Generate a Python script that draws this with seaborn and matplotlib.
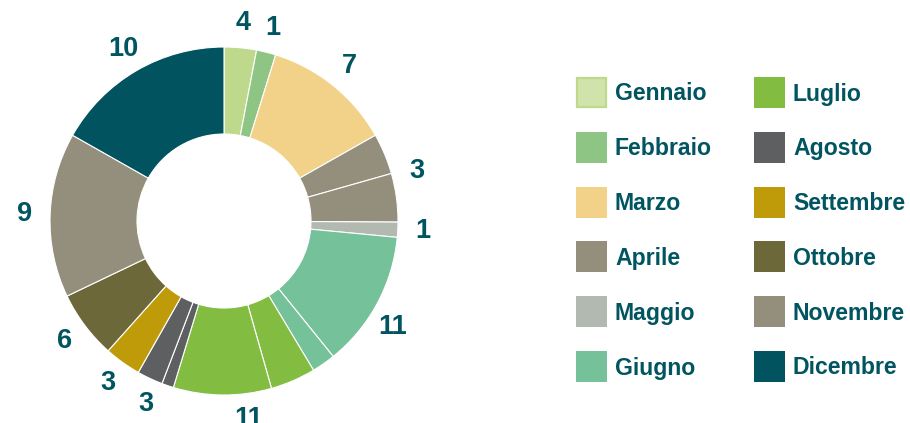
import matplotlib
matplotlib.use("Agg")
import matplotlib.pyplot as plt
from matplotlib.patches import Rectangle
import numpy as np
import seaborn as sns

# Months, the count shown next to each month, and each month's share of the ring
months = ["Gennaio", "Febbraio", "Marzo", "Aprile", "Maggio", "Giugno",
          "Luglio", "Agosto", "Settembre", "Ottobre", "Novembre", "Dicembre"]
counts = [4, 1, 7, 3, 1, 11, 11, 3, 3, 6, 9, 10]
# share (%) of each month, split into its sub-parts
shares = [[3.0], [1.8], [12.0], [3.8, 4.5], [1.4], [12.7, 2.2],
          [4.2, 9.1], [1.1, 2.4], [3.4], [6.3], [15.3], [16.8]]
month_colors = ["#BED88C", "#8FC584", "#F2D289", "#948F7C", "#B1B9B1", "#75C19A",
                "#82BC41", "#5E5F61", "#BF9B0A", "#6D6839", "#948F7C", "#00535F"]

text_color = "#005560"

sns.set_theme(style="white")
plt.rcParams["font.family"] = ["Liberation Sans", "DejaVu Sans"]
palette = sns.color_palette(month_colors)

fig = plt.figure(figsize=(9.10, 4.23), dpi=100)

# Ring chart
W, H = 910, 423
cx, cy, R = 224, 221, 174
lim = 1.2
side = 2 * R * lim
ax = fig.add_axes([(cx - side / 2) / W, (H - cy - side / 2) / H, side / W, side / H])

values, colors = [], []
for month_shares, col in zip(shares, palette):
    for v in month_shares:
        values.append(v)
        colors.append(col)

ax.pie(values, colors=colors, startangle=90, counterclock=False, radius=1.0,
       wedgeprops=dict(width=0.5, edgecolor="white", linewidth=0.8))
ax.set_xlim(-lim, lim)
ax.set_ylim(-lim, lim)
ax.set_aspect("equal")
ax.axis("off")

# Count labels at the middle of each month's arc
totals = np.array([sum(s) for s in shares])
ends = np.cumsum(totals)
mids = (ends - totals / 2) / totals.sum() * 360.0
for ang, n in zip(mids, counts):
    theta = np.deg2rad(90 - ang)
    ax.text(1.145 * np.cos(theta), 1.145 * np.sin(theta), str(n),
            ha="center", va="center", fontsize=19.5, fontweight="bold",
            color=text_color)

# Legend in two columns
lax = fig.add_axes([0, 0, 1, 1])
lax.set_xlim(0, W)
lax.set_ylim(H, 0)
lax.axis("off")
for i, (name, col) in enumerate(zip(months, palette)):
    c, r = divmod(i, 6)
    x0 = 576 + c * 178
    y0 = 77 + r * 54.8
    if i == 0:
        lax.add_patch(Rectangle((x0 + 1, y0 + 1), 29, 29, facecolor="#D0E3AA",
                                edgecolor=col, linewidth=1.6))
    else:
        lax.add_patch(Rectangle((x0, y0), 31, 31, facecolor=col, edgecolor="none"))
    lax.text(x0 + 39, y0 + 23.5, name, ha="left", va="baseline",
             fontsize=16.6, fontweight="bold", color=text_color)

fig.savefig("out.png", dpi=100, facecolor="white")
